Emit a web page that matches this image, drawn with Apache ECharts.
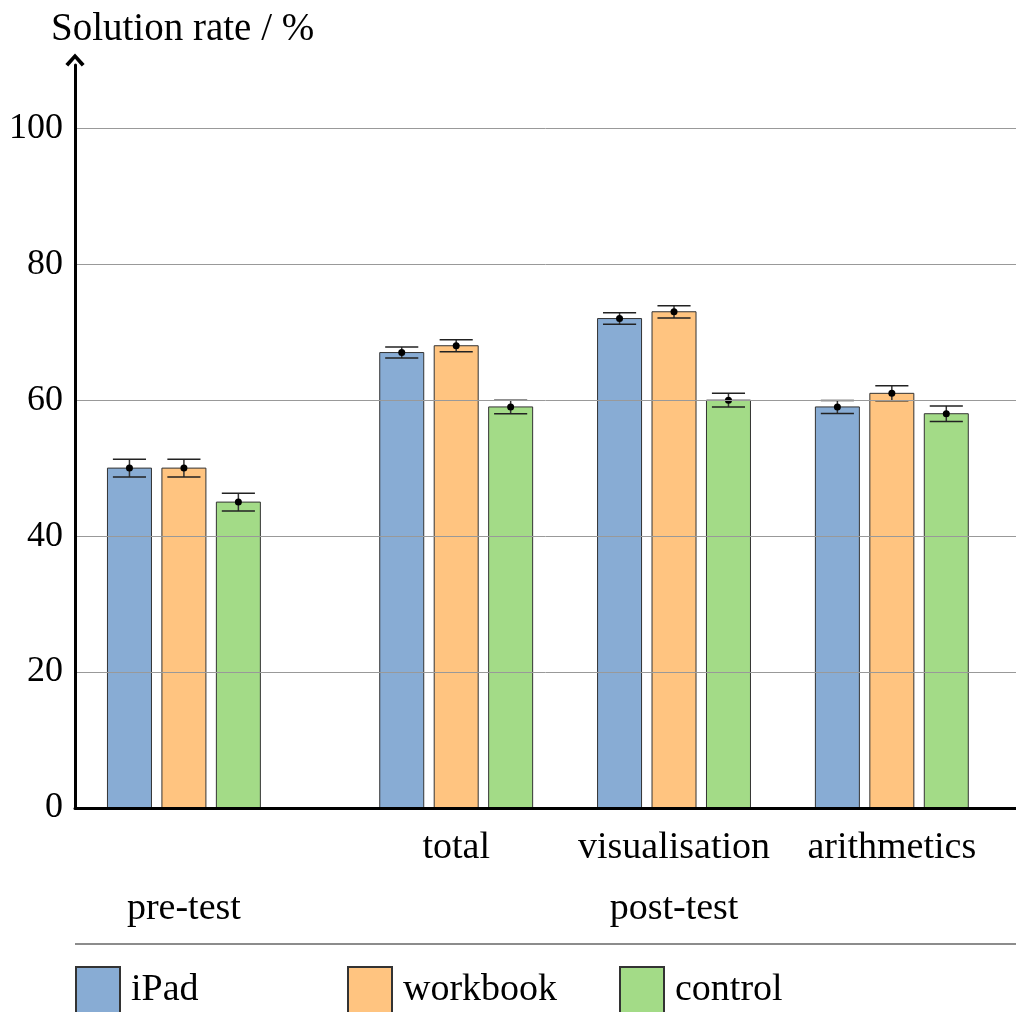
<!DOCTYPE html>
<html>
<head>
<meta charset="utf-8">
<script src="https://cdn.jsdelivr.net/npm/echarts@6/dist/echarts.min.js"></script>
<style>
html, body { margin: 0; padding: 0; background: #fff; }
#chart { width: 1016px; height: 1012px; }
</style>
</head>
<body>
<div id="chart"></div>
<script>
var chart = echarts.init(document.getElementById('chart'));

// groups on the x axis (pre-test, then the three post-test parts)
var groupPos = [0, 1.25, 2.25, 3.25];
var groupNames = ['pre-test', 'total', 'visualisation', 'arithmetics'];
var phasePos = [0, 2.25];
var phaseNames = ['pre-test', 'post-test'];
var yTicks = [0, 20, 40, 60, 80, 100];

// solution rate in % and error (+/-)
var seriesNames = ['iPad', 'workbook', 'control'];
var ipad = [50, 67, 72, 59];
var workbook = [50, 68, 73, 61];
var control = [45, 59, 60, 58];
var ipadErr = [1.3, 0.8, 0.85, 0.95];
var workbookErr = [1.3, 0.9, 0.9, 1.1];
var controlErr = [1.3, 1.0, 1.0, 1.15];

var colors = ['#88acd4', '#ffc480', '#a3db87'];
var offsets = [-0.25, 0, 0.25];
var FONT = 'Liberation Serif';

function makeData(vals, errs, k) {
  return vals.map(function (v, i) {
    return [groupPos[i] + offsets[k], v, errs[i]];
  });
}

function renderBar(params, api) {
  var x = api.value(0), v = api.value(1), e = api.value(2);
  var base = api.coord([x, 0]);
  var top = api.coord([x, v]);
  var hi = api.coord([x, v + e]);
  var lo = api.coord([x, v - e]);
  var w = api.size([0.202, 0])[0];
  var cw = api.size([0.152, 0])[0];
  var fill = api.visual('color');
  return {
    type: 'group',
    children: [
      { type: 'rect', shape: { x: top[0] - w / 2, y: top[1], width: w, height: base[1] - top[1] },
        style: { fill: fill, stroke: '#333', lineWidth: 1 } },
      { type: 'line', shape: { x1: hi[0], y1: hi[1], x2: lo[0], y2: lo[1] },
        style: { stroke: '#333', lineWidth: 1.5 } },
      { type: 'line', shape: { x1: hi[0] - cw / 2, y1: hi[1], x2: hi[0] + cw / 2, y2: hi[1] },
        style: { stroke: '#222', lineWidth: 1.5 } },
      { type: 'line', shape: { x1: lo[0] - cw / 2, y1: lo[1], x2: lo[0] + cw / 2, y2: lo[1] },
        style: { stroke: '#222', lineWidth: 1.5 } },
      { type: 'circle', shape: { cx: top[0], cy: top[1], r: 3.5 }, style: { fill: '#000' } }
    ]
  };
}

var allVals = [ipad, workbook, control];
var allErrs = [ipadErr, workbookErr, controlErr];

var series = seriesNames.map(function (name, k) {
  return {
    name: name,
    type: 'custom',
    z: 2,
    renderItem: renderBar,
    itemStyle: { color: colors[k], borderColor: '#333', borderWidth: 1 },
    encode: { x: 0, y: 1 },
    data: makeData(allVals[k], allErrs[k], k)
  };
});

var legendLeft = [75, 347, 619];
var legends = seriesNames.map(function (name, k) {
  return {
    data: [name],
    left: legendLeft[k],
    top: 966,
    icon: 'rect',
    itemWidth: 44,
    itemHeight: 46,
    padding: 0,
    selectedMode: false,
    textStyle: { fontFamily: FONT, fontSize: 38, color: '#000', padding: [3, 0, 0, 6] }
  };
});

option = {
  animation: false,
  title: {
    text: 'Solution rate / %',
    left: 46,
    top: 5,
    textStyle: { fontFamily: FONT, fontSize: 39, fontWeight: 'normal', color: '#000' }
  },
  grid: { left: 75, right: 0, top: 65, bottom: 204 },
  legend: legends,
  xAxis: [
    {
      type: 'value',
      min: -0.5,
      max: 3.82,
      z: 5,
      axisLine: { lineStyle: { color: '#000', width: 3 } },
      axisTick: { show: false },
      splitLine: { show: false },
      axisLabel: {
        customValues: groupPos.slice(1),
        formatter: function (v) { return groupNames[groupPos.indexOf(v)]; },
        margin: 21,
        fontFamily: FONT, fontSize: 38, color: '#000'
      }
    },
    {
      type: 'value',
      min: -0.5,
      max: 3.82,
      position: 'bottom',
      axisLine: { show: false },
      axisTick: { show: false },
      splitLine: { show: false },
      axisLabel: {
        customValues: phasePos,
        formatter: function (v) { return phaseNames[phasePos.indexOf(v)]; },
        margin: 82,
        fontFamily: FONT, fontSize: 38, color: '#000'
      }
    }
  ],
  yAxis: {
    type: 'value',
    min: 0,
    max: 109.3,
    interval: 20,
    z: 5,
    axisLine: {
      onZero: false,
      lineStyle: { color: '#000', width: 3 },
      symbol: ['none', 'path://M0,11 L10,0 L20,11 L17,13.5 L10,5.5 L3,13.5 Z'],
      symbolSize: [24, 13],
      symbolOffset: [0, 5]
    },
    axisTick: { show: false },
    splitLine: { show: true, showMaxLine: false, lineStyle: { color: '#999', width: 1 } },
    axisLabel: {
      customValues: yTicks,
      margin: 12,
      fontFamily: FONT, fontSize: 36, color: '#000'
    }
  },
  graphic: [
    { type: 'line', shape: { x1: 75, y1: 944, x2: 1016, y2: 944 }, style: { stroke: '#666', lineWidth: 1.5 } }
  ],
  series: series
};

chart.setOption(option);
</script>
</body>
</html>
